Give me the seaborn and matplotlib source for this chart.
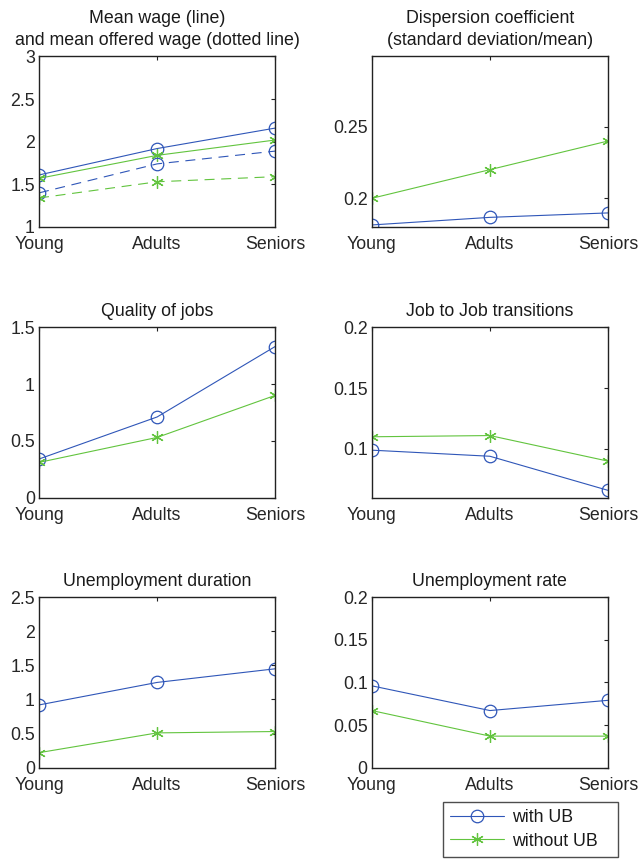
import matplotlib
matplotlib.use("Agg")
import matplotlib.pyplot as plt
import matplotlib.ticker as mticker
from matplotlib.lines import Line2D
import seaborn as sns
import pandas as pd

categories = ["Young", "Adults", "Seniors"]

# Panel 1: mean wage (solid) and mean offered wage (dashed)
wage_with = [1.61, 1.92, 2.16]
wage_without = [1.57, 1.84, 2.02]
offered_with = [1.40, 1.74, 1.89]
offered_without = [1.34, 1.53, 1.59]

# Panel 2: dispersion coefficient
disp_with = [0.1814, 0.1867, 0.1898]
disp_without = [0.200, 0.220, 0.240]

# Panel 3: quality of jobs
quality_with = [0.34, 0.71, 1.33]
quality_without = [0.31, 0.53, 0.90]

# Panel 4: job to job transitions
j2j_with = [0.099, 0.094, 0.066]
j2j_without = [0.110, 0.111, 0.090]

# Panel 5: unemployment duration
udur_with = [0.92, 1.25, 1.45]
udur_without = [0.22, 0.51, 0.53]

# Panel 6: unemployment rate
urate_with = [0.096, 0.067, 0.079]
urate_without = [0.067, 0.037, 0.037]

titles = ["Mean wage (line)\nand mean offered wage (dotted line)",
          "Dispersion coefficient\n(standard deviation/mean)",
          "Quality of jobs", "Job to Job transitions",
          "Unemployment duration", "Unemployment rate"]

legend_labels = ["with UB", "without UB"]

sns.set_style("white")
plt.rcParams['font.family'] = ['Liberation Sans', 'DejaVu Sans']
plt.rcParams['text.color'] = '#1a1a1a'

BLUE = "#2f56b8"
GREEN = "#62c43e"
ASTER = (6, 2, 0)
FS = 12.8

fig = plt.figure(figsize=(6.4, 8.61), dpi=100)

W = 0.369
H = 0.198
lefts = [0.061, 0.581]
bottoms = [0.7364, 0.422, 0.1084]

panels = [
    ([(wage_with, wage_without, "-"), (offered_with, offered_without, "--")], (1, 3), [1, 1.5, 2, 2.5, 3]),
    ([(disp_with, disp_without, "-")], (0.18, 0.299), [0.2, 0.25]),
    ([(quality_with, quality_without, "-")], (0, 1.5), [0, 0.5, 1, 1.5]),
    ([(j2j_with, j2j_without, "-")], (0.06, 0.2), [0.1, 0.15, 0.2]),
    ([(udur_with, udur_without, "-")], (0, 2.5), [0, 0.5, 1, 1.5, 2, 2.5]),
    ([(urate_with, urate_without, "-")], (0, 0.2), [0, 0.05, 0.1, 0.15, 0.2]),
]

for i, (series, ylim, yticks) in enumerate(panels):
    r, c = divmod(i, 2)
    ax = fig.add_axes([lefts[c], bottoms[r], W, H])
    for (vw, vwo, ls) in series:
        df = pd.DataFrame({"x": [0, 1, 2], "with": vw, "without": vwo})
        kw = dict(linewidth=0.8, linestyle=ls)
        if ls == "--":
            kw["dashes"] = (9, 6)
            kw.pop("linestyle")
        sns.lineplot(data=df, x="x", y="with", ax=ax, color=BLUE, marker="o",
                     markersize=9, markerfacecolor="none", markeredgecolor=BLUE,
                     markeredgewidth=0.9, **kw)
        sns.lineplot(data=df, x="x", y="without", ax=ax, color=GREEN, marker=ASTER,
                     markersize=9, markeredgecolor=GREEN, markeredgewidth=0.9, **kw)
    ax.set_xlim(0, 2)
    ax.set_ylim(*ylim)
    ax.set_xticks([0, 1, 2])
    ax.set_xticklabels(categories)
    ax.set_yticks(yticks)
    ax.yaxis.set_major_formatter(mticker.FormatStrFormatter('%g'))
    ax.set_xlabel("")
    ax.set_ylabel("")
    ax.set_title(titles[i], fontsize=FS, pad=8, linespacing=1.4)
    ax.tick_params(direction="in", length=3, width=0.8, top=True, right=True,
                   labelsize=FS, pad=3, color="#222222")
    ax.tick_params(axis="x", pad=6.5)
    for s in ax.spines.values():
        s.set_color("#222222")
        s.set_linewidth(1.0)
    ax.grid(False)

handles = [Line2D([], [], color=BLUE, marker="o", markersize=9, markerfacecolor="none",
                  markeredgewidth=0.9, linewidth=0.8),
           Line2D([], [], color=GREEN, marker=ASTER, markersize=9, markeredgewidth=0.9,
                  linewidth=0.8)]
leg = fig.legend(handles, legend_labels, loc="upper left",
                 bbox_to_anchor=(443 / 640, 1 - 858 / 861, 175 / 640, 56 / 861),
                 mode="expand", fontsize=FS,
                 frameon=True, fancybox=False, edgecolor="#222222",
                 handlelength=3.0, borderpad=0.42, labelspacing=0.35, handletextpad=0.45,
                 borderaxespad=0)
leg.get_frame().set_linewidth(1.0)

fig.savefig("out.png", dpi=100)
